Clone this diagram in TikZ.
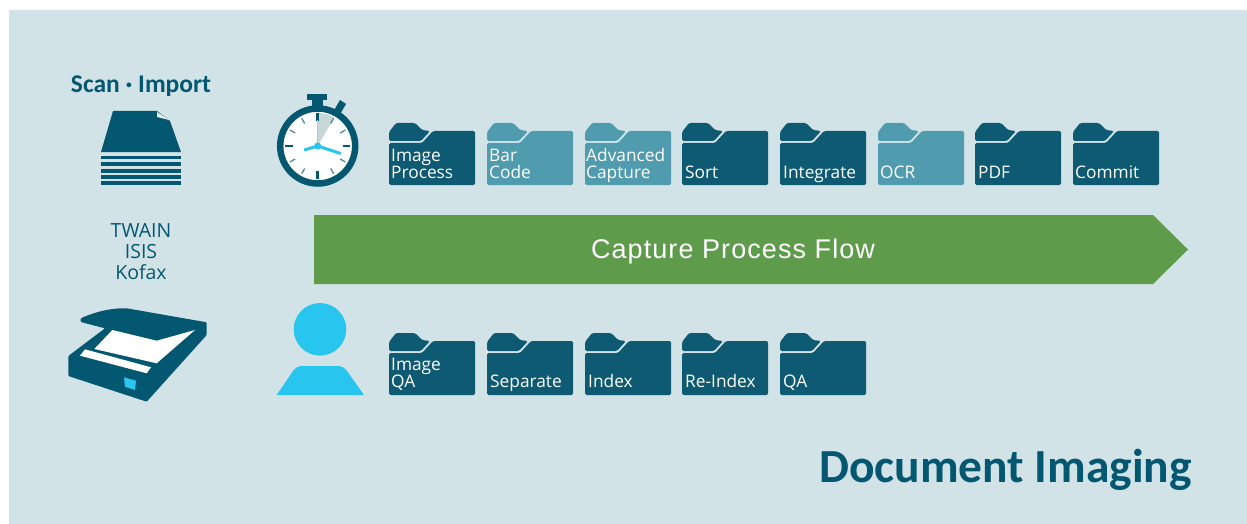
\documentclass[tikz,border=0pt]{standalone}
\usepackage{fontspec}
\setmainfont{Open Sans}
\newfontfamily\titlefont{Carlito}
\newfontfamily\flowfont[LetterSpace=4]{Liberation Sans}
\usetikzlibrary{positioning,calc}
\definecolor{panelblue}{RGB}{210,227,232}
\definecolor{folderdark}{RGB}{15,90,115}
\definecolor{folderlight}{RGB}{80,155,174}
\definecolor{flowgreen}{RGB}{94,156,76}
\definecolor{icondark}{RGB}{3,87,112}
\definecolor{handcyan}{RGB}{40,198,238}
\definecolor{wedgegrey}{RGB}{200,216,214}
\tikzset{
  pics/foldericon/.style={code={
    \fill[#1, rounded corners=1.5pt] (0,18) -- (0,9) -- (7,0) -- (26,0) -- (33,7) -- (41,8) -- (32,18) -- cycle;
    \fill[#1, rounded corners=1.5pt] (0,20) -- (33,20) -- (44,8) -- (86,8) -- (86,62) -- (0,62) -- cycle;
  }},
  folderlabel/.style={anchor=south west, align=left, text=white, font=\fontsize{17.3}{17}\selectfont, inner sep=0pt, execute at end node={\strut}},
  sidelabel/.style={align=center, text=icondark, font=\fontsize{19.5}{21}\selectfont, inner sep=0pt},
  stripe/.style={fill=icondark}
}
\begin{document}
\begin{tikzpicture}[x=1pt,y=-1pt]
\useasboundingbox (0,0) rectangle (1247,524);
\fill[panelblue] (9,10) rectangle (1247,524);
% scan import
\node[anchor=base, font=\titlefont\bfseries\fontsize{25.5}{27}\selectfont, text=icondark, inner sep=0pt] (scanimport) at (141,92.5) {Scan · Import};
\fill[icondark] (113,111) -- (157,111) -- (170,121) -- (181,152) -- (101,152) -- cycle;
\fill[panelblue!50!white] (157,112) -- (157,117) -- (169,120) -- cycle;
\foreach \ya/\yb in {156/159,162/166,169/173,175/179,181/185}
  \fill[stripe] (101,\ya) rectangle (181,\yb);
\node[sidelabel] (drivers) at (141,252) {TWAIN\\ISIS\\Kofax};
% scanner
\fill[icondark, rounded corners=1pt] (80.7,318.3) .. controls (95,312) and (110,308) .. (126.7,308.3) -- (206.7,322.3) -- (206.7,335) -- (146.7,401.7) -- (68.3,376) -- (68.3,356) -- (105,328.3) -- (80.7,322) -- cycle;
\fill[white] (112.3,330) -- (156.7,340.7) -- (195,330) -- (156.7,363.3) -- (94.3,349) -- cycle;
\fill[white] (85,349.3) -- (151,367.3) -- (146.7,373.3) -- (80,355.7) -- cycle;
\fill[handcyan] (124,377.3) -- (136,380.7) -- (135,390) -- (125,386.7) -- cycle;
% stopwatch
\coordinate (clock) at (317.7,146);
\fill[icondark] (306.7,94) rectangle (327.3,100.5);
\fill[icondark] (311.7,100) rectangle (322.7,110);
\fill[icondark] (333,112) -- (340,100) -- (346,104) -- (339,116) -- cycle;
\draw[icondark, fill=white, line width=6.5pt] (clock) circle (37.5);
\fill[wedgegrey] (clock) -- ++(0,-33) arc[start angle=-90, end angle=-60, radius=33] -- cycle;
\foreach \a in {30,60,120,150,210,240,300,330}
  \draw[icondark!70, line width=1.3pt] ($(clock)+(\a:26)$) -- ($(clock)+(\a:32)$);
\foreach \a in {0,90,180,270}
  \draw[icondark, line width=2.6pt] ($(clock)+(\a:25)$) -- ($(clock)+(\a:32.5)$);
\draw[handcyan!60, line width=1.5pt] (clock) -- ++(0,-26);
\draw[handcyan, line width=3pt] ($(clock)+(-13.5,4)$) -- (clock) -- ($(clock)+(23,7.5)$);
\fill[handcyan] (clock) circle (3.5);
% person
\fill[handcyan] (320,329.3) circle (26.3);
\fill[handcyan] (276.7,395) -- (293,371) .. controls (296,367.5) and (298,366) .. (303,366) -- (337,366) .. controls (342,366) and (344,367.5) .. (347,371) -- (364,395) -- cycle;
% folders top row
\pic at (389,123) {foldericon=folderdark};
\pic at (487,123) {foldericon=folderlight};
\pic at (585,123) {foldericon=folderlight};
\pic at (682,123) {foldericon=folderdark};
\pic at (780,123) {foldericon=folderdark};
\pic at (878,123) {foldericon=folderlight};
\pic at (975,123) {foldericon=folderdark};
\pic at (1073,123) {foldericon=folderdark};
\node[folderlabel] (imageprocess) at (391,184) {Image\\Process};
\node[folderlabel] (barcode) at (489,184) {Bar\\Code};
\node[folderlabel] (advanced) at (586,184) {Advanced\\Capture};
\node[folderlabel] (sort) at (685,184) {Sort};
\node[folderlabel] (integrate) at (783,184) {Integrate};
\node[folderlabel] (ocr) at (880,184) {OCR};
\node[folderlabel] (pdf) at (978,184) {PDF};
\node[folderlabel] (commit) at (1075,184) {Commit};
% flow arrow
\fill[flowgreen] (314,215) -- (1153,215) -- (1188,249.5) -- (1153,284) -- (314,284) -- cycle;
\node[anchor=base, text=white, inner sep=0pt, font=\flowfont\fontsize{27}{29}\selectfont] (flow) at (733,258) {Capture Process Flow};
% folders bottom row
\pic at (389,333) {foldericon=folderdark};
\pic at (487,333) {foldericon=folderdark};
\pic at (585,333) {foldericon=folderdark};
\pic at (682,333) {foldericon=folderdark};
\pic at (780,333) {foldericon=folderdark};
\node[folderlabel] (imageqa) at (391,393) {Image\\QA};
\node[folderlabel] (separate) at (490,393) {Separate};
\node[folderlabel] (index) at (588,393) {Index};
\node[folderlabel] (reindex) at (685,393) {Re-Index};
\node[folderlabel] (qa) at (783,393) {QA};
% title
\node[anchor=base, font=\titlefont\bfseries\fontsize{47.5}{50}\selectfont, text=icondark, inner sep=0pt] (docimaging) at (1005.5,482) {Document Imaging};
\end{tikzpicture}
\end{document}
